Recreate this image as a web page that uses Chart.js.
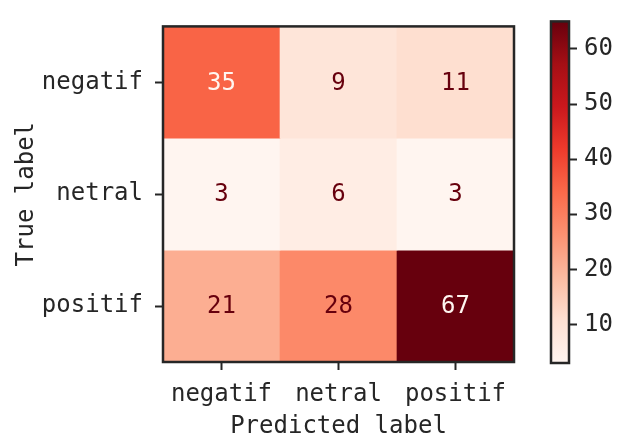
<!DOCTYPE html>
<html>
<head>
<meta charset="utf-8">
<script src="https://cdn.jsdelivr.net/npm/chart.js@4/dist/chart.umd.min.js"></script>
<style>
  html, body { margin: 0; padding: 0; background: #fff; }
  #wrap { position: relative; width: 620px; height: 438px; }
  #wrap canvas { position: absolute; left: 0; top: 0; }
</style>
</head>
<body>
<div id="wrap">
  <canvas id="matrix" width="620" height="438"></canvas>
  <canvas id="cbar" width="620" height="438"></canvas>
</div>
<script>
// --- Data ---
const predictedLabels = ['negatif', 'netral', 'positif'];
const trueLabels = ['negatif', 'netral', 'positif'];
const rowNegatif = [35, 9, 11];
const rowNetral = [3, 6, 3];
const rowPositif = [21, 28, 67];
const colorbarRange = [3, 65];
const colorbarTicks = [10, 20, 30, 40, 50, 60];

const rows = [rowNegatif, rowNetral, rowPositif];

// --- Reds colormap ---
const reds = ['#fff5f0', '#fee0d2', '#fcbba1', '#fc9272', '#fb6a4a', '#ef3b2c', '#cb181d', '#a50f15', '#67000d'];
const hex = h => [1, 3, 5].map(i => parseInt(h.slice(i, i + 2), 16));

function redsAt(t) {
    t = Math.max(0, Math.min(1, t));
    const pos = t * (reds.length - 1);
    const i = Math.min(Math.floor(pos), reds.length - 2);
    const f = pos - i;
    const a = hex(reds[i]), b = hex(reds[i + 1]);
    const c = a.map((v, k) => Math.round(v + (b[k] - v) * f));
    return `rgb(${c[0]},${c[1]},${c[2]})`;
}

const vmin = colorbarRange[0], vmax = colorbarRange[1];
const norm = v => (v - vmin) / (vmax - vmin);
const FONT = "'DejaVu Sans Mono', monospace";
const SIZE = 24;
const INK = '#262626';

// --- Confusion matrix ---
const datasets = rows.map((vals, r) => ({
    label: trueLabels[r],
    data: vals.map(() => [r - 0.5, r + 0.5]),
    values: vals,
    backgroundColor: vals.map(v => redsAt(norm(v))),
    borderWidth: 0,
    grouped: false,
    barPercentage: 1,
    categoryPercentage: 1
}));

const cellText = {
    id: 'cellText',
    afterDatasetsDraw(chart) {
        const { ctx } = chart;
        ctx.save();
        ctx.font = `${SIZE}px ${FONT}`;
        ctx.textAlign = 'center';
        ctx.textBaseline = 'middle';
        chart.data.datasets.forEach((ds, i) => {
            chart.getDatasetMeta(i).data.forEach((bar, j) => {
                const v = ds.values[j];
                const y = (bar.y + bar.base) / 2;
                ctx.fillStyle = norm(v) >= 0.5 ? '#fff5f0' : '#67000d';
                ctx.fillText(String(v), bar.x, y + 1);
            });
        });
        ctx.restore();
    }
};

const frame = {
    id: 'frame',
    afterDraw(chart) {
        const { ctx, chartArea: a } = chart;
        ctx.save();
        ctx.strokeStyle = INK;
        ctx.lineWidth = 2.5;
        ctx.strokeRect(a.left, a.top, a.right - a.left, a.bottom - a.top);
        ctx.restore();
    }
};

const tickGrid = { display: true, drawOnChartArea: false, drawTicks: true, tickLength: 8, tickWidth: 2, color: INK, offset: false };

new Chart(document.getElementById('matrix'), {
    type: 'bar',
    data: { labels: predictedLabels, datasets },
    plugins: [cellText, frame],
    options: {
        responsive: false,
        animation: false,
        layout: { padding: { left: 0, top: 14, right: 106, bottom: 0 } },
        plugins: { legend: { display: false }, tooltip: { enabled: false } },
        scales: {
            x: {
                grid: tickGrid,
                border: { display: false },
                ticks: { color: INK, font: { family: FONT, size: SIZE }, padding: 10, maxRotation: 0 },
                title: { display: true, text: 'Predicted label', color: INK, font: { family: FONT, size: SIZE, lineHeight: 0.9 }, padding: { top: 0, bottom: 0 } },
                afterFit: s => { s.height = 76; }
            },
            y: {
                type: 'linear',
                min: -0.5,
                max: 2.5,
                reverse: true,
                afterBuildTicks: s => { s.ticks = trueLabels.map((_, i) => ({ value: i })); },
                grid: tickGrid,
                border: { display: false },
                ticks: { color: INK, font: { family: FONT, size: SIZE }, padding: 12, callback: v => trueLabels[v] },
                title: { display: true, text: 'True label', color: INK, font: { family: FONT, size: SIZE }, padding: { top: 12, bottom: 0 } },
                afterFit: s => { s.width = 163; }
            }
        }
    }
});

// --- Colorbar ---
new Chart(document.getElementById('cbar'), {
    type: 'bar',
    data: {
        labels: [''],
        datasets: [{
            data: [colorbarRange],
            borderWidth: 0,
            barPercentage: 1,
            categoryPercentage: 1,
            backgroundColor: ctx => {
                const { chart } = ctx;
                const y = chart.scales.y;
                const y0 = y ? y.getPixelForValue(vmin) : NaN;
                const y1 = y ? y.getPixelForValue(vmax) : NaN;
                if (!isFinite(y0) || !isFinite(y1)) return reds[4];
                const g = chart.ctx.createLinearGradient(0, y0, 0, y1);
                reds.forEach((c, i) => g.addColorStop(i / (reds.length - 1), c));
                return g;
            }
        }]
    },
    plugins: [frame],
    options: {
        responsive: false,
        animation: false,
        layout: { padding: { left: 551, top: 14, right: 0, bottom: 75 } },
        plugins: { legend: { display: false }, tooltip: { enabled: false } },
        scales: {
            x: { display: false },
            y: {
                position: 'right',
                min: vmin,
                max: vmax,
                afterBuildTicks: s => { s.ticks = colorbarTicks.map(v => ({ value: v })); },
                grid: tickGrid,
                border: { display: false },
                ticks: { color: INK, font: { family: FONT, size: SIZE }, padding: 7 },
                afterFit: s => { s.width = 51; }
            }
        }
    }
});
</script>
</body>
</html>
